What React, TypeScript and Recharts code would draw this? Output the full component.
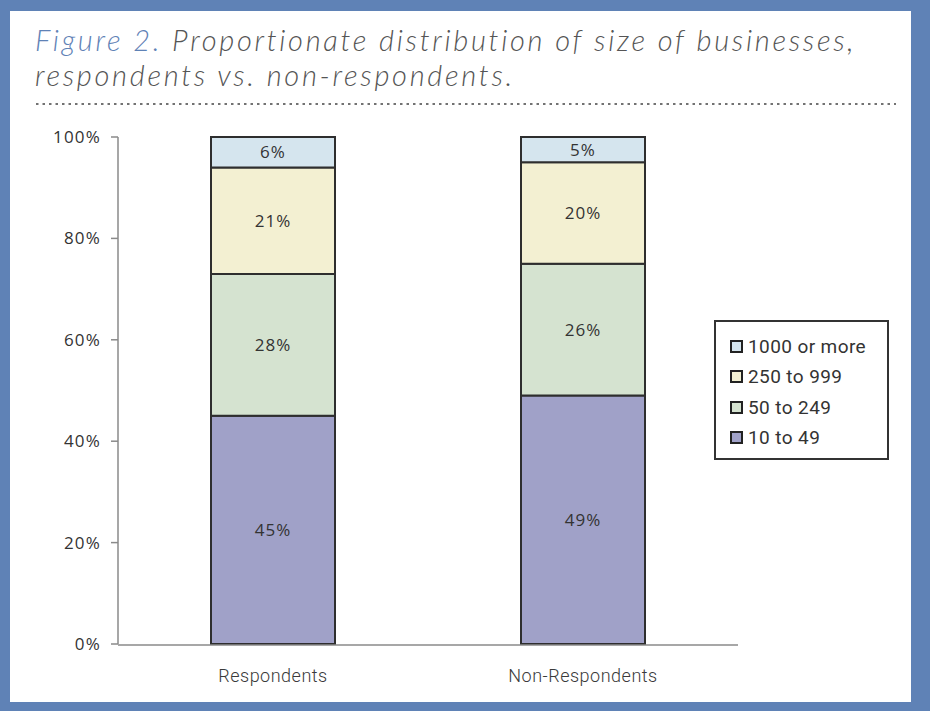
import React from "react";
import { BarChart, Bar, XAxis, YAxis, Legend, LabelList } from "recharts";

const categories = ["Respondents", "Non-Respondents"];
const size10to49 = [45, 49];
const size50to249 = [28, 26];
const size250to999 = [21, 20];
const size1000plus = [6, 5];
const yTicks = [0, 20, 40, 60, 80, 100];
const edgeTicks = [0, 1, 2];

const series = [
  { key: "s10", name: "10 to 49", color: "#a0a1c8" },
  { key: "s50", name: "50 to 249", color: "#d5e3d0" },
  { key: "s250", name: "250 to 999", color: "#f3f0d2" },
  { key: "s1000", name: "1000 or more", color: "#d5e5ee" },
];

const data = categories.map((c, i) => ({
  name: c,
  idx: i,
  s10: size10to49[i],
  s50: size50to249[i],
  s250: size250to999[i],
  s1000: size1000plus[i],
}));

const FRAME = "#5f82b6";
const AXIS = "#8a8a8a";
const TEXT = "#333333";

function LegendBox() {
  const items = [...series].reverse();
  return (
    <div
      style={{
        border: "2px solid #333",
        background: "#fff",
        boxSizing: "border-box",
        width: 175,
        height: 140,
        padding: "9px 0 0 14px",
        fontFamily: "Roboto, sans-serif",
        fontSize: 19,
        letterSpacing: 0.4,
        color: TEXT,
      }}
    >
      {items.map((s) => (
        <div key={s.key} style={{ display: "flex", alignItems: "center", height: 30.5 }}>
          <span
            style={{
              display: "inline-block",
              width: 13,
              height: 13,
              boxSizing: "border-box",
              border: "2px solid #222",
              background: s.color,
              marginRight: 5,
            }}
          />
          <span>{s.name}</span>
        </div>
      ))}
    </div>
  );
}

export default function App() {
  return (
    <div style={{ position: "fixed", left: 0, top: 0, width: 930, height: 711, background: FRAME }}>
      <div style={{ position: "absolute", left: 10, top: 11, width: 901, height: 691, background: "#fff" }} />
      <div
        style={{
          position: "absolute",
          left: 35,
          top: 22,
          fontFamily: "Lato, sans-serif",
          fontStyle: "italic",
          fontWeight: 300,
          fontSize: 29,
          lineHeight: "35px",
          letterSpacing: 2.7,
          color: "#555",
          whiteSpace: "nowrap",
        }}
      >
        <div>
          <span style={{ color: FRAME }}>Figure 2.</span> Proportionate distribution of size of businesses,
        </div>
        <div>respondents vs. non-respondents.</div>
      </div>
      <svg style={{ position: "absolute", left: 0, top: 0 }} width={930} height={120}>
        <line x1={36} x2={896} y1={104} y2={104} stroke="#444" strokeWidth={1.5} strokeDasharray="2.5 4" />
      </svg>
      <div style={{ position: "absolute", left: 0, top: 0 }}>
        <BarChart
          width={930}
          height={711}
          data={data}
          margin={{ top: 137, right: 192, bottom: 65, left: 58 }}
          barCategoryGap="30%"
        >
          <XAxis
            xAxisId="edge"
            type="number"
            domain={[0, 2]}
            ticks={edgeTicks}
            interval={0}
            height={1}
            allowDataOverflow
            tick={false}
            tickSize={7}
            axisLine={{ stroke: AXIS, strokeWidth: 1.5 }}
            tickLine={{ stroke: AXIS, strokeWidth: 1.5 }}
          />
          <XAxis
            xAxisId="cat"
            dataKey="name"
            height={1}
            axisLine={false}
            tickLine={false}
            tickSize={0}
            tickMargin={25}
            tick={{ fill: "#3a3a3a", fontSize: 18, fontFamily: "Roboto, sans-serif", fontWeight: 300, letterSpacing: 0.5 }}
          />
          <YAxis
            width={60}
            domain={[0, 100]}
            ticks={yTicks}
            interval={0}
            tickFormatter={(v) => `${v}%`}
            tickSize={7}
            tickMargin={10}
            axisLine={{ stroke: AXIS, strokeWidth: 1.5 }}
            tickLine={{ stroke: AXIS, strokeWidth: 1.5 }}
            tick={{ fill: TEXT, fontSize: 17, fontFamily: "'Open Sans', sans-serif", letterSpacing: 1.2 }}
          />
          <Legend
            layout="vertical"
            align="center"
            verticalAlign="middle"
            content={() => <LegendBox />}
            wrapperStyle={{ left: 714, top: 320, width: 175, height: 140 }}
          />
          {series.map((s) => (
            <Bar
              key={s.key}
              xAxisId="cat"
              dataKey={s.key}
              name={s.name}
              stackId="a"
              fill={s.color}
              stroke="#2e2e2e"
              strokeWidth={2}
              isAnimationActive={false}
            >
              <LabelList
                dataKey={s.key}
                position="center"
                formatter={(v: number) => `${v}%`}
                style={{ fill: TEXT, fontSize: 17, fontFamily: "'Open Sans', sans-serif", letterSpacing: 1 }}
              />
            </Bar>
          ))}
        </BarChart>
      </div>
    </div>
  );
}
